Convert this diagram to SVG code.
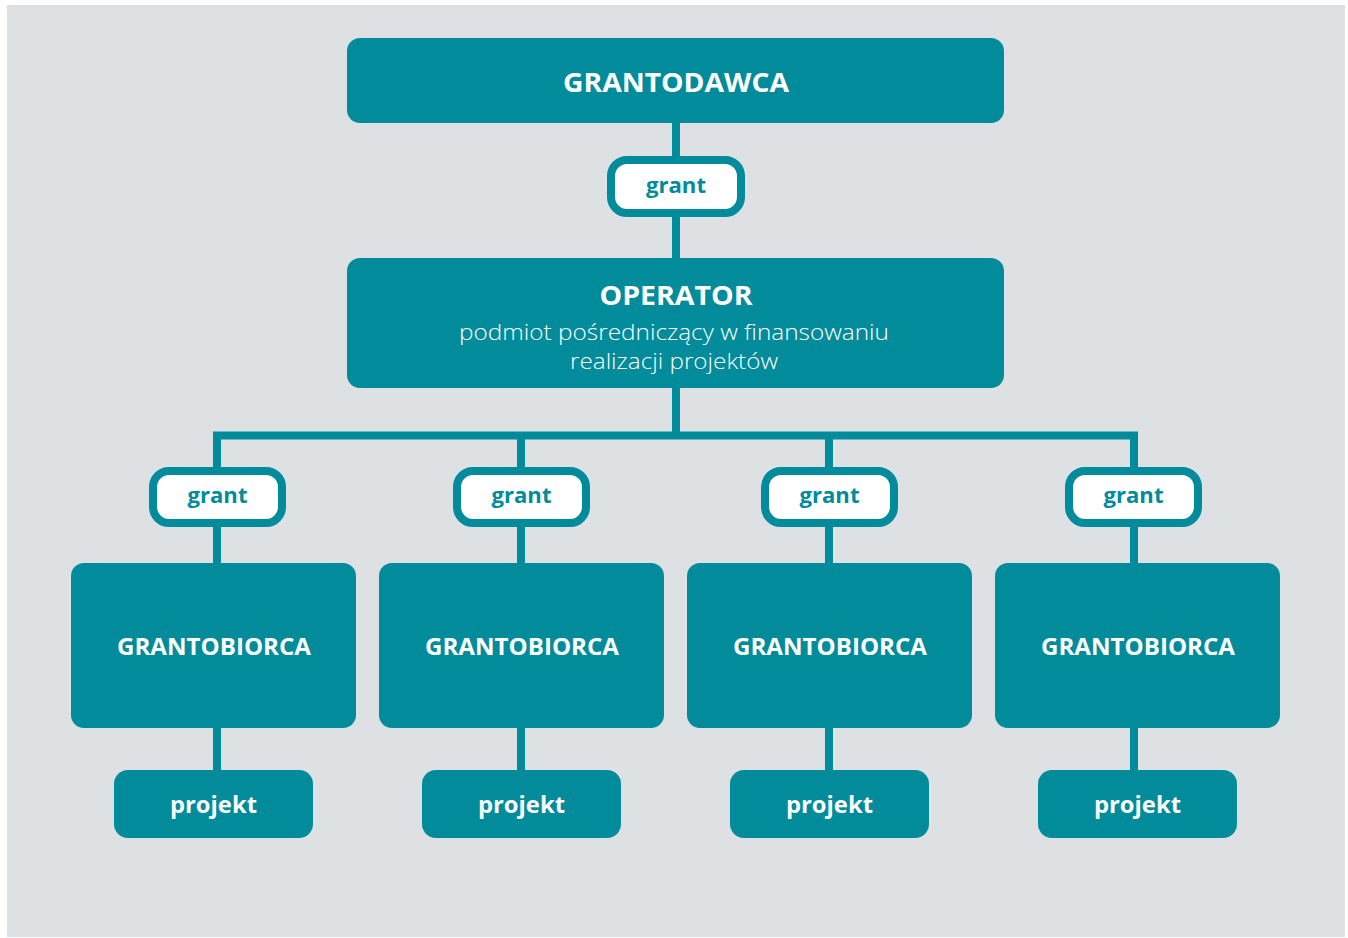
<svg xmlns="http://www.w3.org/2000/svg" width="1348" height="938" viewBox="0 0 1348 938">
  <style>
    .box { fill: #018b9b; }
    .pill { fill: #ffffff; stroke: #018b9b; stroke-width: 8; }
    .wire { fill: none; stroke: #018b9b; stroke-width: 8; stroke-linejoin: miter; }
    .t { font-family: "Open Sans", "Noto Sans", "DejaVu Sans", sans-serif; text-anchor: middle; }
    .head { fill: #ffffff; font-weight: 700; font-size: 27px; }
    .sub { fill: #ffffff; font-weight: 300; font-size: 22px; }
    .unit { fill: #ffffff; font-weight: 700; font-size: 24px; }
    .proj { fill: #ffffff; font-weight: 700; font-size: 23px; }
    .grant { fill: #018b9b; font-weight: 700; font-size: 21px; }
  </style>
  <rect x="0" y="0" width="1348" height="938" fill="#ffffff"/>
  <rect x="7" y="5" width="1338" height="932" fill="#dee1e4"/>

  <g id="connectors">
    <line class="wire" x1="676" y1="120" x2="676" y2="262"/>
    <line class="wire" x1="676" y1="385" x2="676" y2="436"/>
    <path class="wire" d="M217 470 V435.5 H1134 V470"/>
    <line class="wire" x1="521" y1="435.5" x2="521" y2="470"/>
    <line class="wire" x1="829" y1="435.5" x2="829" y2="470"/>
    <line class="wire" x1="217" y1="525" x2="217" y2="566"/>
    <line class="wire" x1="521" y1="525" x2="521" y2="566"/>
    <line class="wire" x1="829" y1="525" x2="829" y2="566"/>
    <line class="wire" x1="1134" y1="525" x2="1134" y2="566"/>
    <line class="wire" x1="217" y1="724" x2="217" y2="773"/>
    <line class="wire" x1="521" y1="724" x2="521" y2="773"/>
    <line class="wire" x1="829" y1="724" x2="829" y2="773"/>
    <line class="wire" x1="1134" y1="724" x2="1134" y2="773"/>
  </g>

  <g id="grantodawca">
    <rect class="box" x="347" y="38" width="657" height="85" rx="13"/>
    <text class="t head" x="676" y="92" textLength="226" lengthAdjust="spacingAndGlyphs">GRANTODAWCA</text>
  </g>

  <g id="grant-top">
    <rect class="pill" x="611" y="160" width="130" height="53" rx="16"/>
    <text class="t grant" x="676" y="193" textLength="60" lengthAdjust="spacingAndGlyphs">grant</text>
  </g>

  <g id="operator">
    <rect class="box" x="347" y="258" width="657" height="130" rx="13"/>
    <text class="t head" x="676" y="305" textLength="153" lengthAdjust="spacingAndGlyphs">OPERATOR</text>
    <text class="t sub" x="674" y="340" textLength="430" lengthAdjust="spacingAndGlyphs">podmiot pośredniczący w finansowaniu</text>
    <text class="t sub" x="674" y="369" textLength="208" lengthAdjust="spacingAndGlyphs">realizacji projektów</text>
  </g>

  <g id="grant-1">
    <rect class="pill" x="153" y="471" width="129" height="52" rx="16"/>
    <text class="t grant" x="217.5" y="503" textLength="60" lengthAdjust="spacingAndGlyphs">grant</text>
  </g>
  <g id="grant-2">
    <rect class="pill" x="457" y="471" width="129" height="52" rx="16"/>
    <text class="t grant" x="521.5" y="503" textLength="60" lengthAdjust="spacingAndGlyphs">grant</text>
  </g>
  <g id="grant-3">
    <rect class="pill" x="765" y="471" width="129" height="52" rx="16"/>
    <text class="t grant" x="829.5" y="503" textLength="60" lengthAdjust="spacingAndGlyphs">grant</text>
  </g>
  <g id="grant-4">
    <rect class="pill" x="1069" y="471" width="129" height="52" rx="16"/>
    <text class="t grant" x="1133.5" y="503" textLength="60" lengthAdjust="spacingAndGlyphs">grant</text>
  </g>

  <g id="grantobiorca-1">
    <rect class="box" x="71" y="563" width="285" height="165" rx="13"/>
    <text class="t unit" x="214" y="655" textLength="194" lengthAdjust="spacingAndGlyphs">GRANTOBIORCA</text>
  </g>
  <g id="grantobiorca-2">
    <rect class="box" x="379" y="563" width="285" height="165" rx="13"/>
    <text class="t unit" x="522" y="655" textLength="194" lengthAdjust="spacingAndGlyphs">GRANTOBIORCA</text>
  </g>
  <g id="grantobiorca-3">
    <rect class="box" x="687" y="563" width="285" height="165" rx="13"/>
    <text class="t unit" x="830" y="655" textLength="194" lengthAdjust="spacingAndGlyphs">GRANTOBIORCA</text>
  </g>
  <g id="grantobiorca-4">
    <rect class="box" x="995" y="563" width="285" height="165" rx="13"/>
    <text class="t unit" x="1138" y="655" textLength="194" lengthAdjust="spacingAndGlyphs">GRANTOBIORCA</text>
  </g>

  <g id="projekt-1">
    <rect class="box" x="114" y="770" width="199" height="68" rx="14"/>
    <text class="t proj" x="213.5" y="813" textLength="87" lengthAdjust="spacingAndGlyphs">projekt</text>
  </g>
  <g id="projekt-2">
    <rect class="box" x="422" y="770" width="199" height="68" rx="14"/>
    <text class="t proj" x="521.5" y="813" textLength="87" lengthAdjust="spacingAndGlyphs">projekt</text>
  </g>
  <g id="projekt-3">
    <rect class="box" x="730" y="770" width="199" height="68" rx="14"/>
    <text class="t proj" x="829.5" y="813" textLength="87" lengthAdjust="spacingAndGlyphs">projekt</text>
  </g>
  <g id="projekt-4">
    <rect class="box" x="1038" y="770" width="199" height="68" rx="14"/>
    <text class="t proj" x="1137.5" y="813" textLength="87" lengthAdjust="spacingAndGlyphs">projekt</text>
  </g>
</svg>
